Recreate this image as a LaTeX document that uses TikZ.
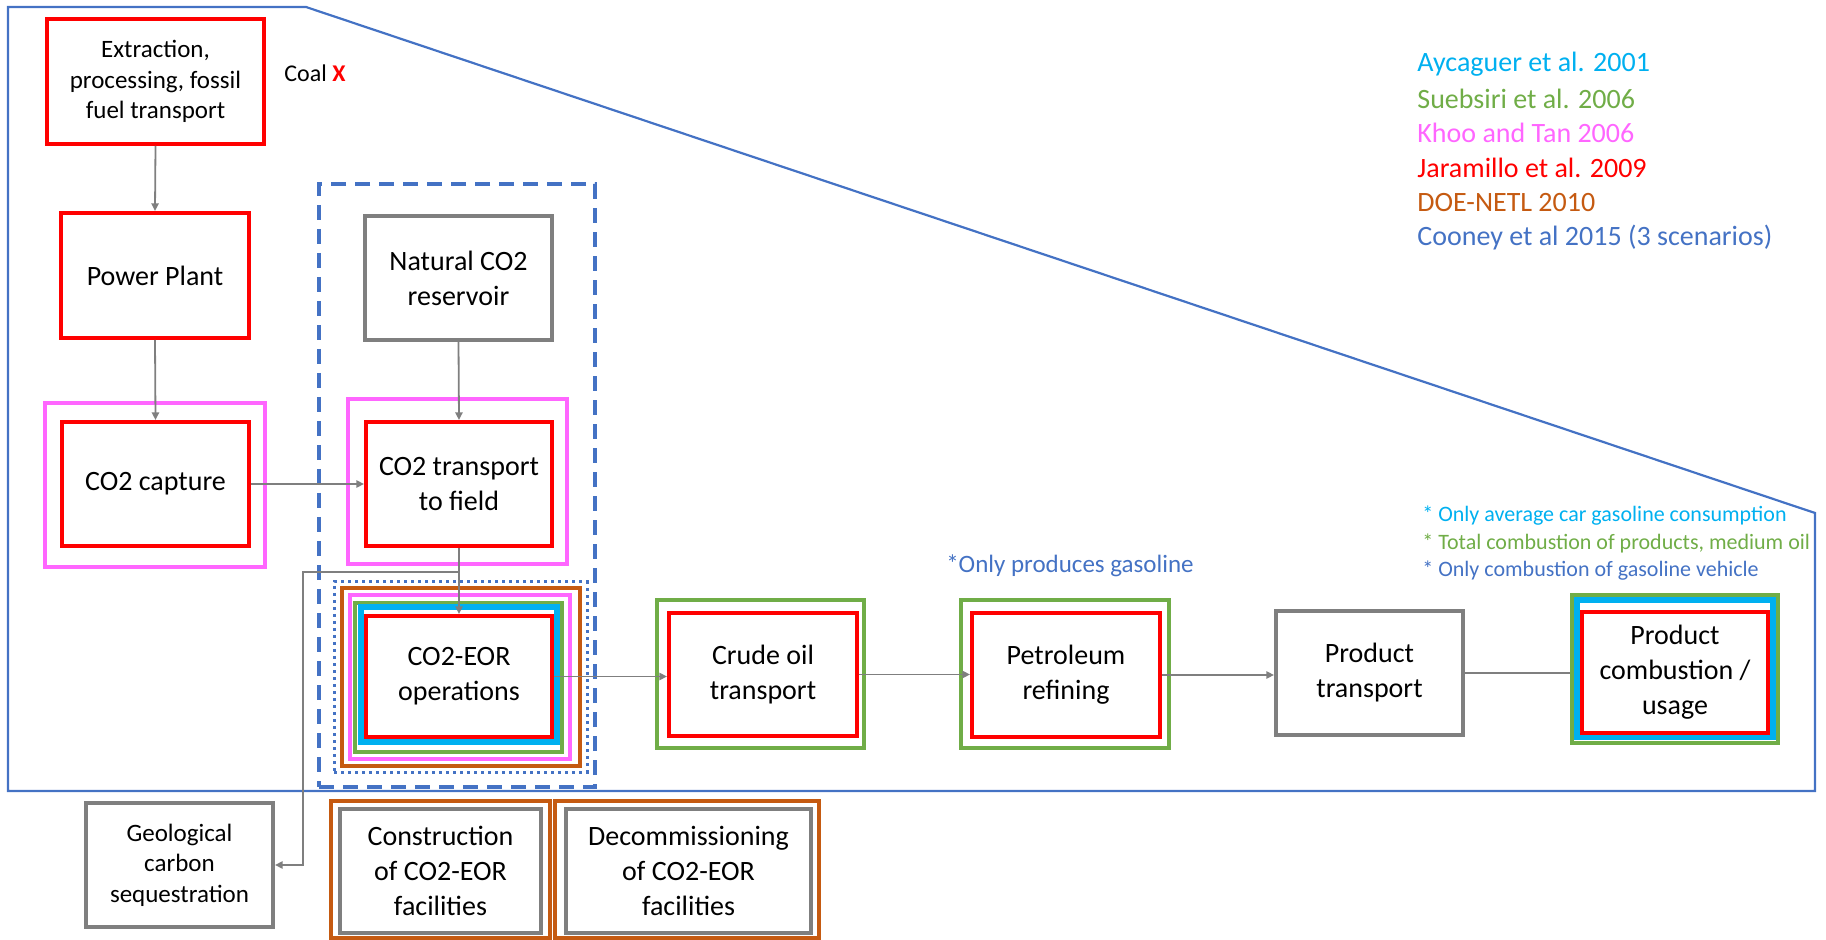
\documentclass[tikz,border=0pt]{standalone}
\usepackage{fontspec}
\setmainfont{Carlito}
\usetikzlibrary{arrows.meta}
\definecolor{cred}{HTML}{FF0000}
\definecolor{cpink}{HTML}{FF66FF}
\definecolor{cgreen}{HTML}{70AD47}
\definecolor{ccyan}{HTML}{00B0F0}
\definecolor{cbrown}{HTML}{C55A11}
\definecolor{cblue}{HTML}{4472C4}
\definecolor{cgray}{HTML}{7F7F7F}
\begin{document}
\begin{tikzpicture}[x=0.5pt,y=-0.5pt,
 frame/.style={draw, inner sep=0pt, align=center, font=\fontsize{14}{17.5}\selectfont},
 redbox/.style={frame, draw=cred, line width=2pt},
 graybox/.style={frame, draw=cgray, line width=2pt},
 pinkbox/.style={frame, draw=cpink, line width=1.7pt},
 greenbox/.style={frame, draw=cgreen, line width=1.9pt},
 cyanbox/.style={frame, draw=ccyan, line width=2.7pt},
 brownbox/.style={frame, draw=cbrown, line width=2.1pt},
 arr/.style={draw=cgray, line width=0.9pt, -{Triangle[length=3.8pt,width=3.6pt]}},
 plain/.style={draw=cgray, line width=0.9pt},
 smalltext/.style={font=\fontsize{12.5}{15.3}\selectfont},
 sz/.style 2 args={minimum width=#1pt, minimum height=#2pt},
 legend/.style={anchor=west, inner sep=0pt, font=\fontsize{14}{17}\selectfont},
 note/.style={anchor=west, inner sep=0pt, font=\fontsize{11}{13}\selectfont}
]
\useasboundingbox (0,0) rectangle (1826,940);
% outer system boundary
\draw[cblue, line width=1.1pt] (8,7) -- (306,7) -- (1815,513) -- (1815,791) -- (8,791) -- cycle;
% grouping frames
\node[draw=cblue, line width=1.7pt, dash pattern=on 7.5pt off 4.5pt, inner sep=0pt, sz={138}{301.5}] (dashfr) at (457,485.5) {};
\node[draw=cblue, line width=1.5pt, dash pattern=on 1.5pt off 2pt, inner sep=0pt, sz={126.5}{95}] (dotfr) at (460.5,677) {};

% left column
\node[redbox, smalltext, sz={108.5}{62.5}] (ext) at (155.5,81.5) {Extraction,\\processing, fossil\\fuel transport};
\node[anchor=west, inner sep=0pt, font=\fontsize{12}{14}\selectfont] (coal) at (284,73) {Coal \textcolor{cred}{\textbf{X}}};
\node[redbox, sz={94}{62.5}] (pp) at (155,275.5) {Power Plant};
\node[pinkbox, sz={110}{82}] (cappk) at (155,485) {};
\node[redbox, sz={93.5}{62}] (cap) at (155.5,484) {CO2 capture};

% CO2 column
\node[graybox, sz={93.5}{62}] (nat) at (458.5,278) {Natural CO2\\reservoir};
\node[pinkbox, sz={109.5}{82.5}] (trpk) at (457.5,481.5) {};
\node[redbox, sz={93}{62}] (tr) at (459,484) {CO2 transport\\to field};

\node[brownbox, sz={119}{89}] (eorbr) at (461,677) {};
\node[pinkbox, sz={110}{82}] (eorpk) at (460,677) {};
\node[greenbox, sz={103.5}{74.5}] (eorgr) at (458.5,677.5) {};
\node[cyanbox, sz={98}{67.5}] (eorcy) at (459,674.5) {};
\node[redbox, sz={93}{60.5}] (eor) at (459,676.5) {CO2-EOR\\operations};

% main chain
\node[greenbox, sz={103.5}{74}] (crgr) at (760.5,674) {};
\node[redbox, sz={94}{61.5}] (crude) at (763,674.5) {Crude oil\\transport};
\node[greenbox, sz={104}{74}] (pegr) at (1065,674) {};
\node[redbox, sz={94}{62}] (pet) at (1066,675) {Petroleum\\refining};
\node[anchor=center, inner sep=0pt, text=cblue, font=\fontsize{12.5}{15}\selectfont] (gasnote) at (1070,566) {*Only produces gasoline};
\node[graybox, sz={93.5}{62}] (pt) at (1369.5,673) {Product\\transport};
\node[greenbox, sz={103}{74}] (pcgr) at (1675,669) {};
\node[cyanbox, sz={98}{68.5}] (pccy) at (1675,668.5) {};
\node[redbox, sz={93}{60.5}] (pc) at (1675,672.5) {Product\\combustion /\\usage};

% notes
\node[note, text=ccyan] (n1) at (1422,516) {* Only average car gasoline consumption};
\node[note, text=cgreen] (n2) at (1422,543) {* Total combustion of products, medium oil};
\node[note, text=cblue] (n3) at (1422,571) {* Only combustion of gasoline vehicle};

% legend
\node[legend, text=ccyan] (lg1) at (1417,64) {Aycaguer et al. 2001};
\node[legend, text=cgreen] (lg2) at (1417,99) {Suebsiri et al. 2006};
\node[legend, text=cpink] (lg3) at (1417,133) {Khoo and Tan 2006};
\node[legend, text=cred] (lg4) at (1417,168) {Jaramillo et al. 2009};
\node[legend, text=cbrown] (lg5) at (1417,203) {DOE-NETL 2010};
\node[legend, text=cblue] (lg6) at (1417,238) {Cooney et al 2015 (3 scenarios)};

% bottom boxes
\node[graybox, smalltext, sz={93.5}{62}] (geo) at (179.5,865) {Geological\\carbon\\sequestration};
\node[brownbox, sz={109.5}{68.5}] (conbr) at (440.5,869.5) {};
\node[graybox, sz={100.5}{62}] (con) at (440.5,871) {Construction\\of CO2-EOR\\facilities};
\node[brownbox, sz={132}{68.5}] (decbr) at (687,869.5) {};
\node[graybox, sz={122.5}{62}] (dec) at (688.5,871) {Decommissioning\\of CO2-EOR\\facilities};

% connectors
\draw[arr] (ext.south) -- (pp.north);
\draw[arr] (pp.south) -- (cap.north);
\draw[arr] (cap.east) -- (tr.west);
\draw[arr] (nat.south) -- (tr.north);
\draw[arr] (tr.south) -- (eor.north);
\coordinate (j1) at (459,572);
\coordinate (j2) at (303,572);
\draw[arr] (j1) -- (j2) |- (geo.east);
\draw[arr] (eor.east) -- (eor.east -| crude.west);
\draw[arr] (crude.east) -- (crude.east -| pet.west);
\draw[arr] (pet.east) -- (pet.east -| pt.west);
\draw[plain] (pt.east) -- (pt.east -| pcgr.west);
\end{tikzpicture}
\end{document}
